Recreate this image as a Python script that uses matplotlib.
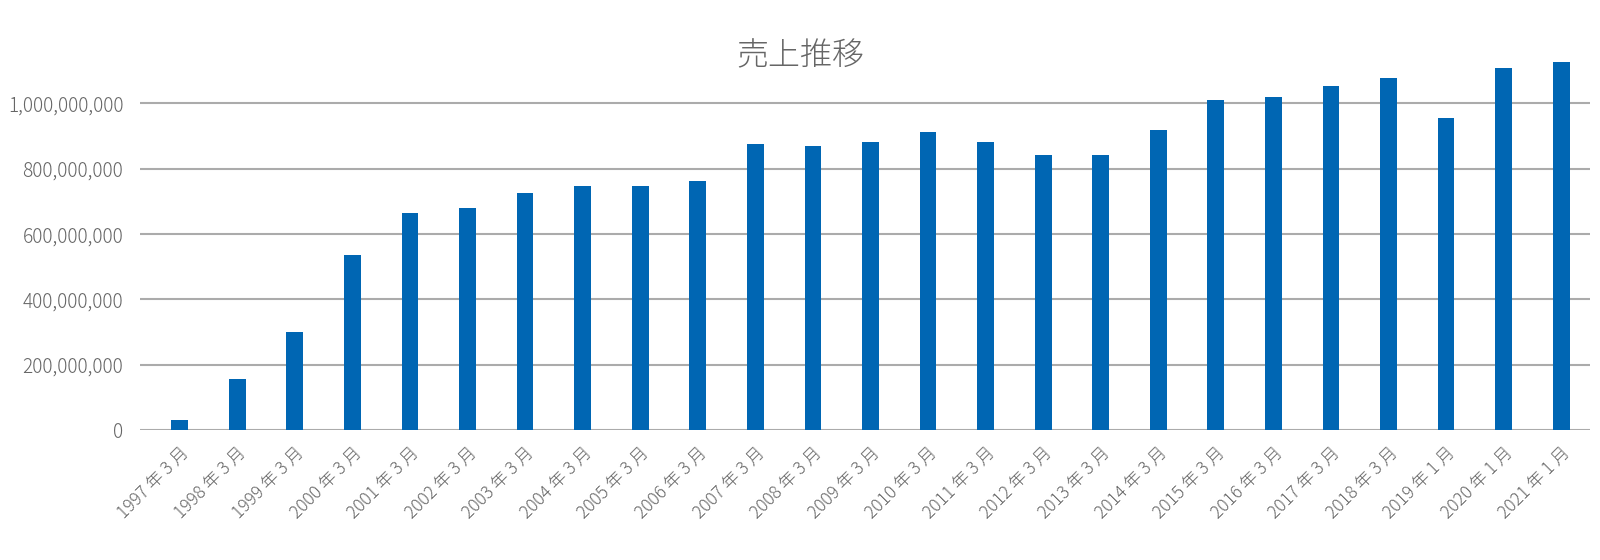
import matplotlib
matplotlib.use('Agg')
import matplotlib.pyplot as plt
from matplotlib.ticker import FuncFormatter

plt.rcParams['font.family'] = ['Noto Sans CJK JP', 'DejaVu Sans']

# data
years = ['1997', '1998', '1999', '2000', '2001', '2002', '2003', '2004', '2005',
         '2006', '2007', '2008', '2009', '2010', '2011', '2012', '2013', '2014',
         '2015', '2016', '2017', '2018', '2019', '2020', '2021']
months = ['3'] * 22 + ['1'] * 3
sales = [31e6, 157e6, 301e6, 535e6, 665e6, 680e6, 726e6, 748e6, 748e6,
         763e6, 877e6, 871e6, 883e6, 914e6, 883e6, 843e6, 843e6, 920e6,
         1009e6, 1021e6, 1052e6, 1077e6, 954e6, 1108e6, 1126e6]
labels = [y + ' 年 ' + m + ' 月' for y, m in zip(years, months)]

text_col = '#666666'
grid_col = '#ababab'
bar_col = '#0066b3'

fig = plt.figure(figsize=(16, 5.6), dpi=100)
ax = fig.add_axes([0.0875, 0.232, 0.90625, 0.70])

x = range(len(sales))
ax.bar(x, sales, width=0.29, color=bar_col, zorder=3)

ax.set_ylim(0, 1.2e9)
ax.set_yticks([0, 200e6, 400e6, 600e6, 800e6, 1000e6])
ax.yaxis.set_major_formatter(FuncFormatter(lambda v, p: '{:,.0f}'.format(v)))
ax.set_xlim(-0.69, len(sales) - 0.5)
ax.set_xticks(list(x))
ax.set_xticklabels(labels, rotation=45, ha='right', rotation_mode='anchor')

ax.grid(axis='y', color=grid_col, linewidth=1.5, zorder=0)
for s in ax.spines.values():
    s.set_visible(False)
ax.tick_params(axis='both', length=0, colors=text_col)
ax.tick_params(axis='y', labelsize=13.7, pad=12)
ax.tick_params(axis='x', labelsize=12.5, pad=10)
for t in ax.get_xticklabels() + ax.get_yticklabels():
    t.set_fontweight('light')

fig.text(0.50, 0.9, '売上推移', ha='center', va='center', fontsize=23,
         color=text_col, fontweight='light')

fig.savefig('out.png', dpi=100)
